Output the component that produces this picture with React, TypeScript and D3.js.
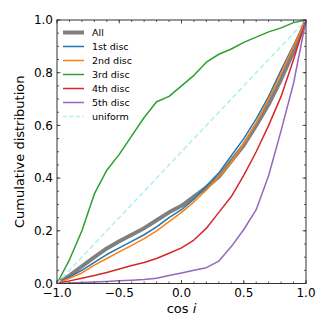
import React from 'react';
import * as d3 from 'd3';

const cosI = [-1, -0.9, -0.8, -0.7, -0.6, -0.5, -0.4, -0.3, -0.2, -0.1, 0, 0.1, 0.2, 0.3, 0.4, 0.5, 0.6, 0.7, 0.8, 0.9, 1];

const allDiscs = [0, 0.03, 0.065, 0.1, 0.133, 0.16, 0.185, 0.21, 0.24, 0.27, 0.295, 0.33, 0.365, 0.405, 0.465, 0.525, 0.6, 0.68, 0.775, 0.88, 1];
const disc1 = [0, 0.025, 0.05, 0.08, 0.11, 0.135, 0.16, 0.185, 0.215, 0.25, 0.28, 0.32, 0.37, 0.42, 0.485, 0.55, 0.625, 0.71, 0.81, 0.905, 1];
const disc2 = [0, 0.02, 0.04, 0.07, 0.095, 0.12, 0.145, 0.17, 0.2, 0.235, 0.27, 0.31, 0.355, 0.405, 0.46, 0.53, 0.61, 0.7, 0.8, 0.9, 1];
const disc3 = [0, 0.09, 0.2, 0.34, 0.43, 0.49, 0.56, 0.63, 0.69, 0.71, 0.75, 0.79, 0.84, 0.87, 0.89, 0.915, 0.935, 0.955, 0.97, 0.99, 1];
const disc4 = [0, 0.01, 0.02, 0.03, 0.042, 0.055, 0.068, 0.08, 0.095, 0.115, 0.135, 0.165, 0.21, 0.27, 0.33, 0.41, 0.5, 0.6, 0.71, 0.85, 1];
const disc5 = [0, 0.002, 0.004, 0.006, 0.008, 0.01, 0.012, 0.015, 0.02, 0.03, 0.04, 0.05, 0.06, 0.085, 0.14, 0.205, 0.28, 0.41, 0.58, 0.76, 1];
const uniformX = [-1, 1];
const uniformY = [0, 1];

const seriesNames = ['All', '1st disc', '2nd disc', '3rd disc', '4th disc', '5th disc', 'uniform'];
const xTicks = [-1, -0.5, 0, 0.5, 1];
const yTicks = [0, 0.2, 0.4, 0.6, 0.8, 1];

const W = 332;
const H = 332;
const m = { left: 57, right: 26, top: 20, bottom: 48.5 };
const font = 'DejaVu Sans, sans-serif';

export default function App() {
  const x = d3.scaleLinear().domain([-1, 1]).range([m.left, W - m.right]);
  const y = d3.scaleLinear().domain([0, 1]).range([H - m.bottom, m.top]);

  const line = d3.line<[number, number]>().x(d => x(d[0])).y(d => y(d[1]));
  const pts = (xs: number[], ys: number[]) => xs.map((v, i) => [v, ys[i]] as [number, number]);

  const series = [
    { name: seriesNames[0], d: pts(cosI, allDiscs), color: '#808080', w: 4, dash: '' },
    { name: seriesNames[1], d: pts(cosI, disc1), color: '#1f77b4', w: 1.5, dash: '' },
    { name: seriesNames[2], d: pts(cosI, disc2), color: '#ff7f0e', w: 1.5, dash: '' },
    { name: seriesNames[3], d: pts(cosI, disc3), color: '#2ca02c', w: 1.5, dash: '' },
    { name: seriesNames[4], d: pts(cosI, disc4), color: '#d62728', w: 1.5, dash: '' },
    { name: seriesNames[5], d: pts(cosI, disc5), color: '#9467bd', w: 1.5, dash: '' },
    { name: seriesNames[6], d: pts(uniformX, uniformY), color: '#afeeee', w: 1.5, dash: '5,3' },
  ];

  const xMinor = d3.range(-1, 1.0001, 0.1);
  const yMinor = d3.range(0, 1.0001, 0.05);
  const x0 = x(-1), x1 = x(1), y0 = y(0), y1 = y(1);

  return (
    <svg width={W} height={H} style={{ position: 'absolute', left: 0, top: 0, background: '#fff' }}>
      <defs>
        <clipPath id="plot">
          <rect x={x0} y={y1} width={x1 - x0} height={y0 - y1} />
        </clipPath>
      </defs>
      <g clipPath="url(#plot)">
        {series.map(s => (
          <path key={s.name} d={line(s.d) ?? ''} fill="none" stroke={s.color} strokeWidth={s.w}
            strokeDasharray={s.dash || undefined} strokeLinejoin="round" />
        ))}
      </g>

      {/* inward ticks on all four sides */}
      <g stroke="#333" strokeWidth={0.8}>
        {xMinor.map((v, i) => (
          <g key={'xm' + i}>
            <line x1={x(v)} x2={x(v)} y1={y0} y2={y0 - 2} />
            <line x1={x(v)} x2={x(v)} y1={y1} y2={y1 + 2} />
          </g>
        ))}
        {yMinor.map((v, i) => (
          <g key={'ym' + i}>
            <line x1={x0} x2={x0 + 2} y1={y(v)} y2={y(v)} />
            <line x1={x1} x2={x1 - 2} y1={y(v)} y2={y(v)} />
          </g>
        ))}
        {xTicks.map(v => (
          <g key={'xt' + v}>
            <line x1={x(v)} x2={x(v)} y1={y0} y2={y0 - 3.5} />
            <line x1={x(v)} x2={x(v)} y1={y1} y2={y1 + 3.5} />
          </g>
        ))}
        {yTicks.map(v => (
          <g key={'yt' + v}>
            <line x1={x0} x2={x0 + 3.5} y1={y(v)} y2={y(v)} />
            <line x1={x1} x2={x1 - 3.5} y1={y(v)} y2={y(v)} />
          </g>
        ))}
      </g>
      <rect x={x0} y={y1} width={x1 - x0} height={y0 - y1} fill="none" stroke="#333" strokeWidth={1} />

      <g fontFamily={font} fontSize={12} fill="#000">
        {xTicks.map(v => (
          <text key={'xl' + v} x={x(v)} y={y0 + 13} textAnchor="middle">
            {d3.format('.1f')(v).replace('-', '\u2212')}
          </text>
        ))}
        {yTicks.map(v => (
          <text key={'yl' + v} x={x0 - 4} y={y(v) + 4.3} textAnchor="end">
            {d3.format('.1f')(v)}
          </text>
        ))}
      </g>

      <text x={(x0 + x1) / 2} y={313} textAnchor="middle" fontFamily={font} fontSize={13}>
        cos <tspan fontStyle="italic">i</tspan>
      </text>
      <text transform={`translate(24,${(y0 + y1) / 2}) rotate(-90)`} textAnchor="middle" fontFamily={font} fontSize={13}>
        Cumulative distribution
      </text>

      <g fontFamily={font} fontSize={9.5}>
        {series.map((s, i) => (
          <g key={'lg' + s.name} transform={`translate(63,${32.5 + i * 14})`}>
            <line x1={0} x2={21} y1={0} y2={0} stroke={s.color} strokeWidth={s.w}
              strokeDasharray={s.dash ? '4,2.5' : undefined} />
            <text x={29} y={3.5}>{s.name}</text>
          </g>
        ))}
      </g>
    </svg>
  );
}
